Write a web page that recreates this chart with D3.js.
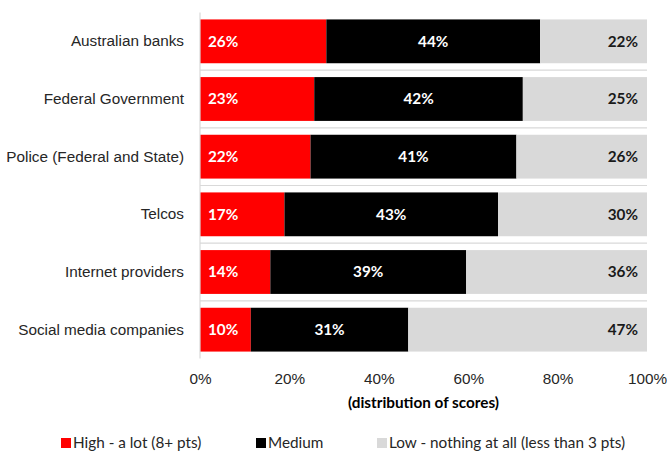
<!DOCTYPE html>
<html>
<head>
<meta charset="utf-8">
<script src="https://cdn.jsdelivr.net/npm/d3@7/dist/d3.min.js"></script>
<style>
  html, body { margin: 0; padding: 0; background: #fff; }
  svg { display: block; font-family: "Source Sans Pro", Lato, "Noto Sans", sans-serif; }
</style>
</head>
<body>
<svg id="chart" width="667" height="452"></svg>
<script>
// Survey responses per organisation type (percent of respondents)
const categories = ["Australian banks", "Federal Government", "Police (Federal and State)", "Telcos", "Internet providers", "Social media companies"];
const seriesNames = ["High - a lot (8+ pts)", "Medium", "Low - nothing at all (less than 3 pts)"];
const high = [26, 23, 22, 17, 14, 10];
const medium = [44, 42, 41, 43, 39, 31];
const low = [22, 25, 26, 30, 36, 47];
const tickValues = [0, 0.2, 0.4, 0.6, 0.8, 1.0];
const axisTitle = "(distribution of scores)";

const colors = ["#ff0000", "#000000", "#d9d9d9"];
const labelColors = ["#ffffff", "#ffffff", "#1a1a1a"];

const svg = d3.select("#chart");
const margin = { left: 200, right: 20, top: 12.5, bottom: 93.5 };
const W = 667, H = 452;
const fs = 15.3;

const x = d3.scaleLinear().domain([0, 1]).range([margin.left, W - margin.right]);
const y = d3.scaleBand().domain(categories).range([margin.top, H - margin.bottom]).paddingInner(0.24).paddingOuter(0.12);

// Each row is shown as a share of that row's total
const rows = categories.map((c, i) => {
  const vals = [high[i], medium[i], low[i]];
  const total = d3.sum(vals);
  let acc = 0;
  return vals.map((v, k) => {
    const seg = { cat: c, k, v, x0: acc / total, x1: (acc + v) / total };
    acc += v;
    return seg;
  });
});

// Row separators
const step = y.step();
const grid = svg.append("g");
grid.selectAll("line.sep")
  .data(d3.range(1, categories.length))
  .join("line")
  .attr("x1", x(0)).attr("x2", x(1))
  .attr("y1", i => y(categories[i]) - (step - y.bandwidth()) / 2)
  .attr("y2", i => y(categories[i]) - (step - y.bandwidth()) / 2)
  .attr("stroke", "#d9d9d9").attr("stroke-width", 1.2);

// Bars
const g = svg.append("g");
rows.forEach(segs => {
  g.selectAll(null)
    .data(segs)
    .join("rect")
    .attr("x", d => x(d.x0))
    .attr("width", d => x(d.x1) - x(d.x0))
    .attr("y", d => y(d.cat))
    .attr("height", y.bandwidth())
    .attr("fill", d => colors[d.k]);

  g.selectAll(null)
    .data(segs)
    .join("text")
    .attr("x", d => d.k === 0 ? x(d.x0) + 8 : d.k === 1 ? (x(d.x0) + x(d.x1)) / 2 : x(d.x1) - 9)
    .attr("y", d => y(d.cat) + y.bandwidth() / 2)
    .attr("dy", "0.35em")
    .attr("text-anchor", d => d.k === 0 ? "start" : d.k === 1 ? "middle" : "end")
    .attr("fill", d => labelColors[d.k])
    .attr("font-size", fs)
    .attr("font-weight", "bold")
    .text(d => d.v + "%");
});

// Category axis
const yAxis = svg.append("g")
  .attr("transform", `translate(${x(0)},0)`)
  .call(d3.axisLeft(y).tickSize(0).tickPadding(16));
yAxis.select(".domain").attr("stroke", "#d9d9d9").attr("stroke-width", 1.2)
  .attr("d", `M0,${margin.top}V${H - margin.bottom}`);
yAxis.selectAll("text").attr("font-size", fs).attr("fill", "#262626").attr("font-family", null);

// Value axis
const xAxis = svg.append("g")
  .attr("transform", `translate(0,${H - margin.bottom})`)
  .call(d3.axisBottom(x).tickValues(tickValues).tickFormat(d3.format(".0%")).tickSize(0).tickPadding(15));
xAxis.select(".domain").remove();
xAxis.selectAll("text").attr("font-size", fs).attr("fill", "#262626").attr("font-family", null);

svg.append("text")
  .attr("x", x(0.5)).attr("y", 408)
  .attr("text-anchor", "middle")
  .attr("font-size", fs).attr("font-weight", "bold").attr("fill", "#000")
  .text(axisTitle);

// Legend
const legendX = [61, 256, 377];
const legend = svg.append("g");
seriesNames.forEach((name, k) => {
  legend.append("rect")
    .attr("x", legendX[k]).attr("y", 438)
    .attr("width", 10).attr("height", 10)
    .attr("fill", colors[k]);
  legend.append("text")
    .attr("x", legendX[k] + 12).attr("y", 448)
    .attr("font-size", fs).attr("fill", "#262626")
    .text(name);
});
</script>
</body>
</html>
